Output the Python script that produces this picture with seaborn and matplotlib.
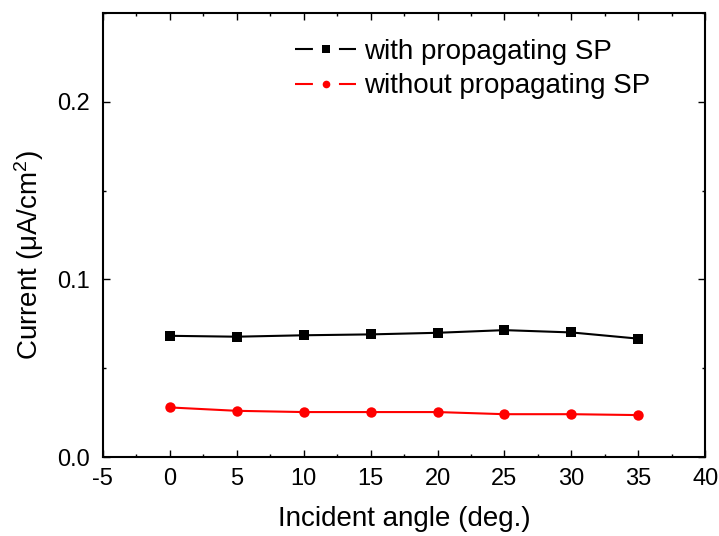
import matplotlib
matplotlib.use("Agg")
import matplotlib.pyplot as plt
import seaborn as sns
import pandas as pd
from matplotlib.ticker import MultipleLocator
from matplotlib.lines import Line2D

angles = [0, 5, 10, 15, 20, 25, 30, 35]
with_sp = [0.0683, 0.0678, 0.0686, 0.0691, 0.0700, 0.0715, 0.0702, 0.0667]
without_sp = [0.0280, 0.0261, 0.0254, 0.0254, 0.0254, 0.0242, 0.0242, 0.0237]
series_names = ["with propagating SP", "without propagating SP"]
colors = {series_names[0]: "black", series_names[1]: "red"}
markers = {series_names[0]: "s", series_names[1]: "o"}

sns.set_style("ticks")
plt.rcParams["font.family"] = ["Liberation Sans", "DejaVu Sans"]
plt.rcParams["mathtext.fontset"] = "custom"
plt.rcParams["mathtext.rm"] = "Liberation Sans"
plt.rcParams["mathtext.default"] = "regular"
plt.rcParams["axes.unicode_minus"] = False
for k in ["text.color", "axes.labelcolor", "xtick.color", "ytick.color", "axes.edgecolor"]:
    plt.rcParams[k] = "black"

df = pd.DataFrame({
    "angle": angles * 2,
    "current": with_sp + without_sp,
    "series": [series_names[0]] * len(angles) + [series_names[1]] * len(angles),
})

fig = plt.figure(figsize=(7.19, 5.36), dpi=100)
ax = fig.add_axes([0.143, 0.147, 0.838, 0.829])

sns.lineplot(data=df, x="angle", y="current", hue="series", style="series",
             palette=colors, markers=markers,
             dashes=False, markersize=7.5, linewidth=1.5, markeredgewidth=0,
             legend=False, ax=ax)

ax.set_xlim(-5, 40)
ax.set_ylim(0, 0.25)
ax.xaxis.set_major_locator(MultipleLocator(5))
ax.xaxis.set_minor_locator(MultipleLocator(2.5))
ax.yaxis.set_major_locator(MultipleLocator(0.1))
ax.yaxis.set_minor_locator(MultipleLocator(0.05))
ax.tick_params(which="both", direction="in", top=True, right=True, width=1.0)
ax.tick_params(which="major", length=5, labelsize=17)
ax.tick_params(axis="y", which="major", pad=9.5)
ax.tick_params(axis="x", which="major", pad=7.5)
ax.tick_params(which="minor", length=2.5)
for s in ax.spines.values():
    s.set_linewidth(1.5)

ax.set_xlabel("Incident angle (deg.)", fontsize=20, labelpad=12)
ax.set_ylabel("Current (μA/cm$^{2}$)", fontsize=20)
ax.yaxis.set_label_coords(-0.095, 0.455)

handles = [Line2D([], [], color=colors[n], marker=markers[n], markersize=5.5,
                  markeredgewidth=0, linewidth=1.5, linestyle=(0, (8.6, 12.5)))
           for n in series_names]
fig.legend(handles, series_names, loc="upper left", frameon=False, fontsize=20,
           handlelength=2.2, handletextpad=0.3, labelspacing=0.3,
           borderpad=0, borderaxespad=0,
           bbox_to_anchor=(295 / 719, 1 - 39 / 536))

fig.savefig("out.png", dpi=100)
